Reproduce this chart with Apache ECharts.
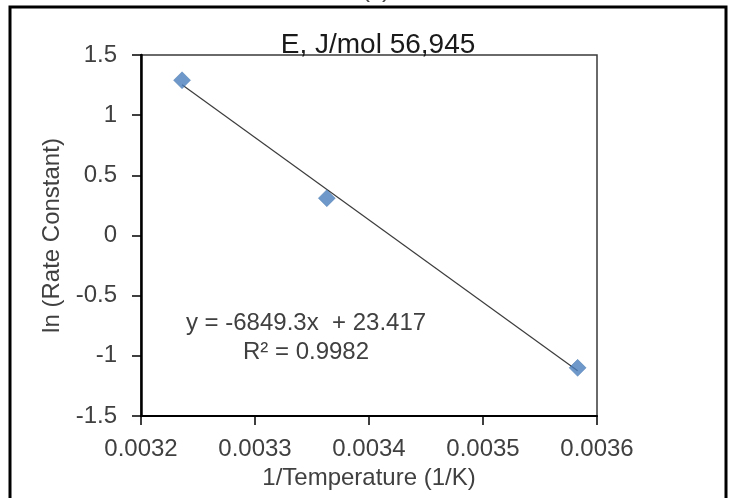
<!DOCTYPE html>
<html>
<head>
<meta charset="utf-8">
<script src="https://cdn.jsdelivr.net/npm/echarts@6/dist/echarts.min.js"></script>
<style>
  html, body { margin: 0; padding: 0; background: #fff; }
  #chart { width: 735px; height: 498px; }
</style>
</head>
<body>
<div id="chart"></div>
<script>
// Arrhenius plot: ln(k) against 1/T
const invTemperature = [0.003236, 0.003363, 0.003583];
const lnRateConstant = [1.29, 0.31, -1.10];
const xTicks = [0.0032, 0.0033, 0.0034, 0.0035, 0.0036];
const yTicks = [-1.5, -1, -0.5, 0, 0.5, 1, 1.5];
const fitSlope = [-6849.3];
const fitIntercept = [23.417];
const fitR2 = [0.9982];
const titleText = 'E, J/mol 56,945';
const panelLabel = '(c)';

const FONT = '"Liberation Sans", Arial, sans-serif';
const TEXT = '#404040';

// least-squares line as reported, spanning the measured range
const xMin = Math.min(...invTemperature);
const xMax = Math.max(...invTemperature);
const fitLine = [xMin, xMax].map(x => [x, fitSlope[0] * x + fitIntercept[0]]);

const equationText = 'y = ' + fitSlope[0] + 'x  + ' + fitIntercept[0] +
  '\nR\u00B2 = ' + fitR2[0];

const chart = echarts.init(document.getElementById('chart'), null, { renderer: 'canvas' });

chart.setOption({
  animation: false,
  backgroundColor: '#fff',
  textStyle: { fontFamily: FONT },
  grid: {
    left: 141, right: 138, top: 55, bottom: 82,
    show: true, borderColor: '#3a3a3a', borderWidth: 1.5, backgroundColor: '#fff'
  },
  xAxis: {
    type: 'value',
    min: xTicks[0], max: xTicks[xTicks.length - 1], interval: 0.0001,
    name: '1/Temperature (1/K)',
    nameLocation: 'middle', nameGap: 46,
    nameTextStyle: { fontSize: 24, color: TEXT, fontFamily: FONT },
    axisLine: { show: true, onZero: false, lineStyle: { color: '#000', width: 2 } },
    axisTick: { show: true, inside: false, length: 9, lineStyle: { color: '#000', width: 1.5 } },
    axisLabel: { fontSize: 24, color: TEXT, margin: 21, fontFamily: FONT,
      formatter: v => v.toFixed(4) },
    splitLine: { show: false }
  },
  yAxis: {
    type: 'value',
    min: yTicks[0], max: yTicks[yTicks.length - 1], interval: 0.5,
    name: 'ln (Rate Constant)',
    nameLocation: 'middle', nameGap: 76, nameRotate: 90,
    nameTextStyle: { fontSize: 24, color: TEXT, fontFamily: FONT },
    axisLine: { show: true, onZero: false, lineStyle: { color: '#000', width: 2.5 } },
    axisTick: { show: true, inside: false, length: 9, lineStyle: { color: '#000', width: 1.5 } },
    axisLabel: { fontSize: 24, color: TEXT, margin: 24, fontFamily: FONT },
    splitLine: { show: false }
  },
  series: [
    {
      name: 'fit',
      type: 'line',
      data: fitLine,
      symbol: 'none',
      lineStyle: { color: '#3c3c3c', width: 1.2 },
      z: 2
    },
    {
      name: 'ln k',
      type: 'scatter',
      data: invTemperature.map((x, i) => [x, lnRateConstant[i]]),
      symbol: 'diamond',
      symbolSize: 17,
      itemStyle: { color: '#4a7ebb', borderColor: '#3f70aa', borderWidth: 0.5 },
      z: 3
    }
  ],
  graphic: [
    {
      type: 'rect',
      shape: { x: 10, y: 7, width: 716, height: 510 },
      style: { fill: 'none', stroke: '#000', lineWidth: 3 },
      z: 100
    },
    {
      type: 'text',
      left: 377 - 15, top: -22,
      style: { text: panelLabel, font: '24px ' + FONT, fill: TEXT }
    },
    {
      type: 'text',
      x: 378, y: 31,
      style: { text: titleText, font: '28px ' + FONT, fill: '#1a1a1a',
        textAlign: 'center', textVerticalAlign: 'top' },
      z: 50
    },
    {
      type: 'text',
      x: 306, y: 309,
      style: { text: equationText, font: '24px ' + FONT, fill: TEXT,
        textAlign: 'center', textVerticalAlign: 'top', lineHeight: 29 },
      z: 50
    }
  ]
});
</script>
</body>
</html>
